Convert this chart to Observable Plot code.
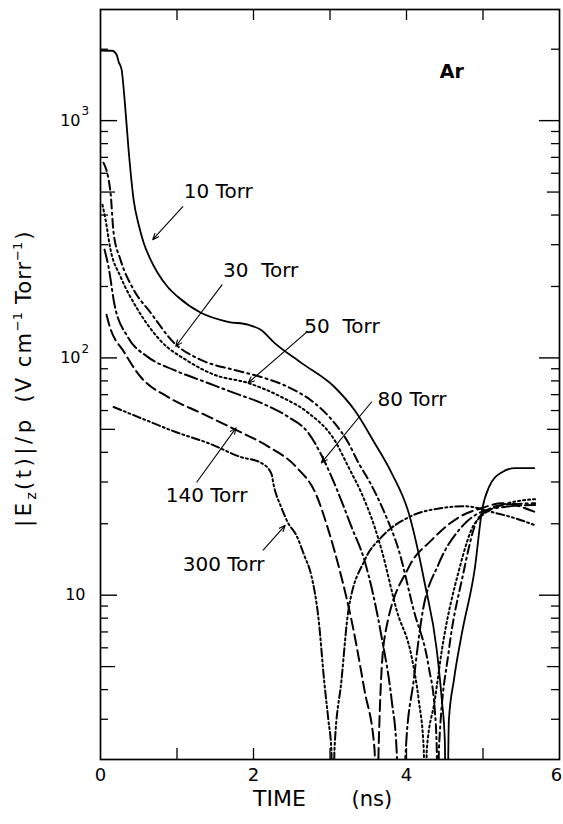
<!DOCTYPE html>
<html><head><meta charset="utf-8">
<script src="https://cdn.jsdelivr.net/npm/d3@7"></script>
<script src="https://cdn.jsdelivr.net/npm/@observablehq/plot@0.6"></script>
<style>
body{margin:0;background:#fff}
#chart{width:563px;height:824px}
#chart svg text{white-space:pre}
</style>
</head><body><div id="chart"></div>
<script>
// ---- data (time in ns, |Ez(t)|/p in V cm^-1 Torr^-1) ----
const t10 = [0,0.15,0.21,0.236,0.276,0.315,0.367,0.433,0.499,0.564,0.656,0.748,0.879,1.010,1.312,1.667,1.929,2.100,2.270,2.625,3.058,3.320,3.583,3.806,4.029,4.239,4.396,4.462,4.501,4.521,4.554,4.619,4.724,4.895,4.987,5.079,5.249,5.420,5.669];
const v10 = [1975,1970,1900,1774,1641,1227,754,464,364,306,259,228,199,181,155,142,138,131,116,95.3,75.4,60.3,43.8,32.7,22.2,11.2,5.86,3.61,2.44,0.5,2.97,4.38,6.91,13.1,22.8,28.6,33.0,34.3,34.3];
const t30 = [0.039,0.131,0.171,0.262,0.433,0.656,0.958,1.312,1.745,2.100,2.454,2.795,3.058,3.241,3.373,3.504,3.714,3.898,4.094,4.291,4.370,4.396,4.409,4.423,4.554,4.724,4.948,5.249,5.682];
const v30 = [665,497,337,259,194,155,116,98.1,89.0,83.1,75.4,64.6,53.2,43.8,36.1,30.6,22.2,15.5,8.65,4.97,3.27,2.22,0.5,2.22,5.86,11.6,21.3,24.0,24.4];
const t50 = [0.026,0.066,0.131,0.262,0.486,0.787,1.142,1.483,1.929,2.362,2.717,3.058,3.241,3.412,3.583,3.675,3.871,4.068,4.160,4.226,4.245,4.265,4.370,4.462,4.685,4.895,5.249,5.682];
const v50 = [442,382,286,220,160,118,97,85,78.4,68.5,58.6,45.1,34.7,26.9,19.4,15.5,8.65,5.47,3.61,2.22,0.5,2.22,3.61,5.86,12.7,20.1,24.0,25.4];
const t80 = [0.052,0.105,0.184,0.354,0.617,0.958,1.404,1.745,2.100,2.454,2.717,2.887,3.110,3.281,3.451,3.675,3.806,3.871,3.924,3.990,4.094,4.199,4.423,4.685,4.948,5.249,5.682];
const v80 = [286,242,167,123,101,89.0,78.4,71.2,64.6,56.4,48.3,39.0,26.9,19.4,14.0,6.65,3.61,2.22,0.5,2.22,4.38,8.07,13.6,18.8,22.2,23.5,24.0];
const t140 = [0.079,0.105,0.315,0.525,0.879,1.312,1.772,2.205,2.559,2.822,2.979,3.150,3.281,3.451,3.583,3.609,3.635,3.714,4.029,4.331,4.685,4.987,5.249,5.682];
const v140 = [152,141,105,83.1,68.5,58.6,49.7,42.1,34.7,26.4,18.8,11.9,7.85,3.97,2.22,0.5,2.22,6.65,13.1,17.1,21.3,23.3,24.4,22.4];
const t300 = [0.171,0.591,0.984,1.404,1.837,2.100,2.231,2.270,2.362,2.454,2.559,2.664,2.756,2.848,2.927,2.979,3.018,3.038,3.058,3.150,3.241,3.451,3.675,4.029,4.462,4.764,5.118,5.420,5.682];
const v300 = [62.1,54.7,48.7,43.8,38.2,36.1,32.7,28.5,23.5,20.1,17.9,14.7,12.1,8.07,4.25,2.97,2.22,0.5,2.22,4.38,8.65,14.0,17.6,21.3,23.3,23.7,22.4,21.1,19.7];

// annotation labels and arrows (data coordinates)
const annLabels = ["10 Torr","30  Torr","50  Torr","80 Torr","140 Torr","300 Torr"];
const annTextT  = [1.089,1.601,2.664,3.622,0.853,1.076];
const annTextV  = [502,233,136,66.5,26.2,13.5];
const arrowT1   = [1.076,1.588,2.703,3.543,1.260,2.126];
const arrowV1   = [434,203,129,65.2,30.0,15.5];
const arrowT2   = [0.682,0.984,1.929,2.887,1.772,2.415];
const arrowV2   = [315,112,78.4,36.1,50.7,19.7];

// axis ticks
const xTickLabels = [0,2,4];
const xLastLabel = [6];
const xMinorTicks = [1,2,3,4,5];
const yMajor = [10,100,1000];
const yHalf = [5,50,500];
const yMinor = [3,4,6,7,8,9,20,30,40,60,70,80,90,200,300,400,600,700,800,900,2000];
const yPowLabels = [100,1000];
const yPowExp = {100:"2",1000:"3"};
const yTenLabel = [10];

// ---- build ----
const mk = (t, v) => t.map((d, i) => ({t: d, v: v[i]}));
const curves = [
  {data: mk(t10, v10), dash: null, w: 1.8},
  {data: mk(t30, v30), dash: "9,4,2,4", w: 2},
  {data: mk(t50, v50), dash: "2,3", w: 2},
  {data: mk(t80, v80), dash: "13,4,2,4", w: 2},
  {data: mk(t140, v140), dash: "11,5", w: 2},
  {data: mk(t300, v300), dash: "8,3,2,3,2,3", w: 2}
];
const ann = annLabels.map((l, i) => ({l, tx: annTextT[i], tv: annTextV[i], x1: arrowT1[i], y1: arrowV1[i], x2: arrowT2[i], y2: arrowV2[i]}));

const FW = 459, FH = 750; // frame size
const font = "DejaVu Sans";

const chart = Plot.plot({
  width: 563, height: 824,
  marginLeft: 100, marginRight: 4, marginTop: 9, marginBottom: 65,
  x: {domain: [0, 6]},
  y: {type: "log", domain: [2.03, 2940], axis: null},
  style: {fontFamily: font, background: "white", color: "black"},
  marks: [
    ...curves.map(c => Plot.line(c.data, {x: "t", y: "v", stroke: "black", strokeWidth: c.w, strokeDasharray: c.dash, curve: "monotone-x", clip: true})),
    // inward ticks, left
    Plot.tickY(yMajor, {y: d => d, insetRight: FW - 17, stroke: "black", strokeWidth: 1.4}),
    Plot.tickY(yHalf, {y: d => d, insetRight: FW - 15, stroke: "black", strokeWidth: 1.3}),
    Plot.tickY(yMinor, {y: d => d, insetRight: FW - 8, stroke: "black", strokeWidth: 1.3}),
    // inward ticks, right
    Plot.tickY(yMajor, {y: d => d, insetLeft: FW - 20, stroke: "black", strokeWidth: 1.4}),
    Plot.tickY(yHalf, {y: d => d, insetLeft: FW - 12, stroke: "black", strokeWidth: 1.3}),
    Plot.tickY(yMinor, {y: d => d, insetLeft: FW - 8, stroke: "black", strokeWidth: 1.3}),
    // inward ticks, bottom & top
    Plot.tickX(xMinorTicks, {x: d => d, insetTop: FH - 11, stroke: "black", strokeWidth: 1.3}),
    Plot.tickX(xMinorTicks, {x: d => d, insetBottom: FH - 11, stroke: "black", strokeWidth: 1.3}),
    Plot.frame({stroke: "black", strokeWidth: 1.7}),
    // x tick labels
    Plot.axisX({ticks: xTickLabels, tickSize: 0, tickPadding: 9, fontSize: 18, label: null, tickFormat: d => String(d)}),
    Plot.axisX({ticks: xLastLabel, tickSize: 0, tickPadding: 9, fontSize: 18, label: null, tickFormat: d => String(d), dx: -3}),
    // y tick labels: 10, 10^2, 10^3
    Plot.text(yPowLabels, {y: d => d, frameAnchor: "left", text: () => "10", textAnchor: "end", dx: -20, fontSize: 16}),
    Plot.text(yPowLabels, {y: d => d, frameAnchor: "left", text: d => yPowExp[d], textAnchor: "start", dx: -19, dy: -9, fontSize: 12}),
    Plot.text(yTenLabel, {y: d => d, frameAnchor: "left", text: () => "10", textAnchor: "end", dx: -15, fontSize: 16}),
    // annotations
    Plot.arrow(ann, {x1: "x1", y1: "y1", x2: "x2", y2: "y2", stroke: "black", strokeWidth: 1.1, headLength: 9, headAngle: 45}),
    Plot.text(ann, {x: "tx", y: "tv", text: "l", textAnchor: "start", fontSize: 20, letterSpacing: 2.3}),
    Plot.text(["Ar"], {x: [4.436], y: [1609], text: d => d, textAnchor: "start", fontSize: 19, fontWeight: "bold"}),
    Plot.text(["TIME"], {x: [1.995], frameAnchor: "bottom", dy: 46, text: d => d, textAnchor: "start", fontSize: 22, letterSpacing: 1.2}),
    Plot.text(["(ns)"], {x: [3.281], frameAnchor: "bottom", dy: 46, text: d => d, textAnchor: "start", fontSize: 21, letterSpacing: 4.5})
  ]
});
document.getElementById("chart").appendChild(chart);

// rotated y-axis title with sub/superscripts
const svg = d3.select(chart);
const yl = svg.append("text")
  .attr("transform", "translate(31,527) rotate(-90)")
  .attr("text-anchor", "start")
  .attr("font-family", font)
  .attr("font-size", 21)
  .attr("fill", "black");
yl.append("tspan").attr("letter-spacing", 3.6).text("|E");
yl.append("tspan").attr("dy", 5).attr("font-size", 14).attr("letter-spacing", 2).text("z");
yl.append("tspan").attr("dy", -5).attr("letter-spacing", 3.6).text("(t)|/p");
yl.append("tspan").attr("dx", 14).attr("letter-spacing", 2).text("(V cm");
yl.append("tspan").attr("dy", -9).attr("font-size", 13).text("\u22121");
yl.append("tspan").attr("dy", 9).attr("dx", 8).attr("letter-spacing", 1).text("Torr");
yl.append("tspan").attr("dy", -9).attr("font-size", 13).text("\u22121");
yl.append("tspan").attr("dy", 9).attr("dx", 2).text(")");
</script></body></html>
